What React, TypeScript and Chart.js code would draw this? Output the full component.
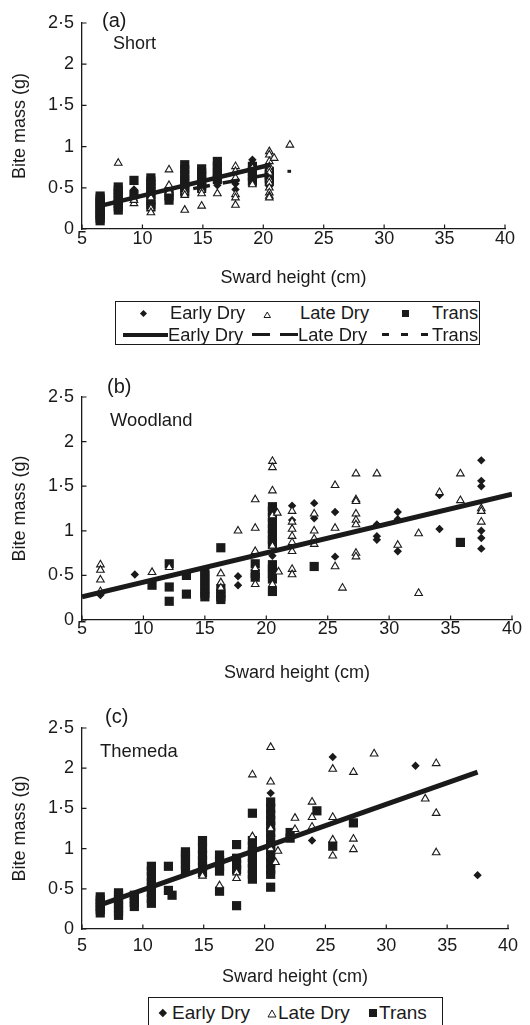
import React, { useEffect, useRef } from 'react';
import { Chart, registerables } from 'chart.js';

Chart.register(...registerables);

const FONT = '"Liberation Sans", Arial, Helvetica, sans-serif';
const INK = '#1a1a1a';

type Pt = [number, number];

// ---- axis ticks ----
const xTickValues = [5, 10, 15, 20, 25, 30, 35, 40];
const xTickLabels = ['5', '10', '15', '20', '25', '30', '35', '40'];
const yTickValues = [0, 0.5, 1, 1.5, 2, 2.5];
const yTickLabels = ['0', '0·5', '1', '1·5', '2', '2·5'];
const seriesNames = ['Early Dry', 'Late Dry', 'Trans'];

// ---- panel (a) Short ----
const shortEarly: Pt[] = [
  [9.3, 0.48], [9.3, 0.4], [9.3, 0.35], [10.7, 0.45], [14.9, 0.55], [16.2, 0.53],
  [17.7, 0.6], [17.7, 0.55], [17.7, 0.48], [19.1, 0.84], [19.1, 0.8], [20.5, 0.65], [20.5, 0.52],
];
const shortLate: Pt[] = [
  [8, 0.8], [9.3, 0.31], [9.3, 0.35], [10.7, 0.38], [10.7, 0.25], [10.7, 0.2],
  [12.2, 0.72], [12.2, 0.53], [12.2, 0.45], [13.5, 0.45], [13.5, 0.41], [13.5, 0.23],
  [14.9, 0.47], [14.9, 0.43], [14.9, 0.28], [16.2, 0.43],
  [17.7, 0.76], [17.7, 0.7], [17.7, 0.62], [17.7, 0.42], [17.7, 0.38], [17.7, 0.29],
  [19.1, 0.74], [19.1, 0.54],
  [20.5, 0.94], [20.5, 0.9], [20.5, 0.82], [20.5, 0.76], [20.5, 0.72], [20.5, 0.68],
  [20.5, 0.6], [20.5, 0.56], [20.5, 0.5], [20.5, 0.44], [20.5, 0.4], [20.5, 0.38],
  [20.9, 0.86], [22.2, 1.02],
];
const shortTrans: Pt[] = [
  [6.5, 0.1], [6.5, 0.13], [6.5, 0.16], [6.5, 0.19], [6.5, 0.22], [6.5, 0.25], [6.5, 0.28],
  [6.5, 0.31], [6.5, 0.34], [6.5, 0.37], [6.5, 0.4],
  [8, 0.23], [8, 0.27], [8, 0.31], [8, 0.35], [8, 0.39], [8, 0.43], [8, 0.47], [8, 0.51],
  [9.3, 0.59], [9.3, 0.42],
  [10.7, 0.62], [10.7, 0.58], [10.7, 0.54], [10.7, 0.5], [10.7, 0.46], [10.7, 0.42], [10.7, 0.35], [10.7, 0.3], [10.7, 0.27],
  [12.2, 0.35], [12.2, 0.4], [12.2, 0.45],
  [13.5, 0.78], [13.5, 0.72], [13.5, 0.66], [13.5, 0.6], [13.5, 0.55], [13.5, 0.5], [13.5, 0.45],
  [14.9, 0.73], [14.9, 0.68], [14.9, 0.63], [14.9, 0.58], [14.9, 0.53], [14.9, 0.5],
  [16.2, 0.82], [16.2, 0.76], [16.2, 0.7], [16.2, 0.65], [16.2, 0.6],
  [19.1, 0.76], [19.1, 0.7], [19.1, 0.64], [19.1, 0.58],
  [20.5, 0.7], [20.5, 0.66], [20.5, 0.62], [20.5, 0.58],
];
const shortEarlyFit: Pt[] = [[6.5, 0.28], [20.6, 0.78]];
const shortLateFit: Pt[] = [[14.2, 0.49], [21.1, 0.68]];
const shortTransFit: Pt[] = [[22.0, 0.7], [22.3, 0.7]];

// ---- panel (b) Woodland ----
const woodEarly: Pt[] = [
  [6.5, 0.28], [9.3, 0.51], [13.5, 0.5], [17.7, 0.49], [17.7, 0.39],
  [20.5, 0.72], [20.5, 0.62], [20.5, 0.58], [22.1, 1.28], [22.1, 1.12], [22.1, 0.83],
  [23.9, 1.31], [23.9, 1.14], [25.6, 1.21], [25.6, 0.71], [29, 1.07], [29, 0.94], [29, 0.9],
  [30.7, 1.21], [30.7, 1.13], [30.7, 0.77], [34.1, 1.4], [34.1, 1.02],
  [37.5, 1.79], [37.5, 1.56], [37.5, 1.5], [37.5, 1.0], [37.5, 0.92], [37.5, 0.8],
];
const woodLate: Pt[] = [
  [6.5, 0.62], [6.5, 0.56], [6.5, 0.45], [6.5, 0.32], [10.7, 0.535], [12.1, 0.59],
  [16.3, 0.52], [16.3, 0.42], [16.3, 0.36], [17.7, 1.0],
  [19.1, 1.35], [19.1, 1.03], [19.1, 0.77], [19.1, 0.58], [19.1, 0.4],
  [20.5, 1.78], [20.5, 1.71], [20.5, 1.45], [20.5, 1.17], [20.5, 0.83], [20.5, 0.4],
  [20.9, 1.2], [21.0, 0.54],
  [22.1, 1.22], [22.1, 1.1], [22.1, 1.02], [22.1, 0.94], [22.1, 0.87], [22.1, 0.77], [22.1, 0.57], [22.1, 0.51],
  [23.9, 1.19], [23.9, 1.0], [23.9, 0.91], [23.9, 0.85],
  [25.6, 1.51], [25.6, 1.03], [25.6, 0.6], [26.2, 0.36],
  [27.3, 1.64], [27.3, 1.35], [27.3, 1.33], [27.3, 1.19], [27.3, 1.12], [27.3, 1.07], [27.3, 0.75], [27.3, 0.71],
  [29, 1.64], [30.7, 0.84], [32.4, 0.97], [32.4, 0.3], [34.1, 1.43],
  [35.8, 1.64], [35.8, 1.34], [37.5, 1.25], [37.5, 1.22], [37.5, 1.1],
];
const woodTrans: Pt[] = [
  [10.7, 0.39], [12.1, 0.63], [12.1, 0.37], [12.1, 0.21], [13.5, 0.5], [13.5, 0.29],
  [15, 0.55], [15, 0.5], [15, 0.45], [15, 0.4], [15, 0.35], [15, 0.3], [15, 0.26],
  [16.3, 0.81], [16.3, 0.35], [16.3, 0.3], [16.3, 0.26], [16.3, 0.23],
  [19.1, 0.63], [19.1, 0.52], [19.1, 0.48],
  [20.5, 1.27], [20.5, 1.22], [20.5, 1.15], [20.5, 1.08], [20.5, 1.02], [20.5, 0.96], [20.5, 0.9],
  [20.5, 0.85], [20.5, 0.62], [20.5, 0.57], [20.5, 0.52], [20.5, 0.46], [20.5, 0.32],
  [23.9, 0.6], [35.8, 0.87],
];
const woodFit: Pt[] = [[5, 0.26], [40, 1.41]];

// ---- panel (c) Themeda ----
const themEarly: Pt[] = [[20.5, 1.69], [23.9, 1.1], [25.6, 2.14], [32.4, 2.03], [37.5, 0.67]];
const themLate: Pt[] = [
  [14.9, 0.66], [16.3, 0.54], [17.7, 0.7], [17.7, 0.63], [19, 1.92], [19, 1.15],
  [20.5, 2.26], [20.5, 1.83], [20.5, 1.25], [20.5, 1.0], [20.9, 0.83], [21.1, 0.97],
  [22.5, 1.38], [22.5, 1.24], [23.9, 1.58], [23.9, 1.39], [23.9, 1.27],
  [25.6, 1.99], [25.6, 1.39], [25.6, 1.11], [25.6, 0.91],
  [27.3, 1.95], [27.3, 1.12], [27.3, 0.99], [29, 2.18], [33.2, 1.62],
  [34.1, 2.06], [34.1, 1.44], [34.1, 0.95],
];
const themTrans: Pt[] = [
  [6.5, 0.2], [6.5, 0.24], [6.5, 0.28], [6.5, 0.32], [6.5, 0.36], [6.5, 0.4],
  [8, 0.17], [8, 0.22], [8, 0.27], [8, 0.32], [8, 0.37], [8, 0.42], [8, 0.45],
  [9.3, 0.28], [9.3, 0.33], [9.3, 0.38], [9.3, 0.42],
  [10.7, 0.32], [10.7, 0.38], [10.7, 0.45], [10.7, 0.52], [10.7, 0.58], [10.7, 0.65], [10.7, 0.72], [10.7, 0.78],
  [12.1, 0.78], [12.1, 0.48], [12.4, 0.42],
  [13.5, 0.74], [13.5, 0.8], [13.5, 0.86], [13.5, 0.92], [13.5, 0.96],
  [14.9, 0.7], [14.9, 0.78], [14.9, 0.85], [14.9, 0.92], [14.9, 1.0], [14.9, 1.1],
  [16.3, 0.92], [16.3, 0.85], [16.3, 0.78], [16.3, 0.72], [16.3, 0.47],
  [17.7, 1.05], [17.7, 0.88], [17.7, 0.8], [17.7, 0.74], [17.7, 0.29],
  [19, 1.44], [19, 1.1], [19, 1.03], [19, 0.96], [19, 0.89], [19, 0.82], [19, 0.75], [19, 0.68], [19, 0.62],
  [20.5, 1.58], [20.5, 1.5], [20.5, 1.42], [20.5, 1.35], [20.5, 1.28], [20.5, 1.2], [20.5, 1.12],
  [20.5, 1.05], [20.5, 0.98], [20.5, 0.9], [20.5, 0.82], [20.5, 0.74], [20.5, 0.68], [20.5, 0.52],
  [22.1, 1.2], [22.1, 1.13], [24.3, 1.47], [25.6, 1.03], [27.3, 1.32],
];
const themFit: Pt[] = [[6.5, 0.3], [37.5, 1.95]];

const toXY = (a: Pt[]) => a.map(([x, y]) => ({ x, y }));

const inwardTicks = {
  id: 'inwardTicks',
  beforeDatasetsDraw(chart: any) {
    const { ctx, chartArea, scales } = chart;
    ctx.save();
    ctx.strokeStyle = INK;
    ctx.lineWidth = 1.2;
    ctx.beginPath();
    xTickValues.forEach((v) => {
      const px = scales.x.getPixelForValue(v);
      ctx.moveTo(px, chartArea.bottom);
      ctx.lineTo(px, chartArea.bottom - 4.5);
    });
    yTickValues.forEach((v) => {
      const py = scales.y.getPixelForValue(v);
      ctx.moveTo(chartArea.left, py);
      ctx.lineTo(chartArea.left + 4.5, py);
    });
    ctx.stroke();
    ctx.restore();
  },
};

interface FitLine { data: Pt[]; width: number; dash: number[] }
interface PanelDef {
  top: number; height: number; areaTop: number; areaBottom: number; areaRight: number;
  xTickPad: number; xTitleCenter: number;
  early: Pt[]; late: Pt[]; trans: Pt[]; fits: FitLine[];
}

const panels: PanelDef[] = [
  {
    top: 0, height: 295, areaTop: 23, areaBottom: 229, areaRight: 505, xTickPad: 1, xTitleCenter: 278,
    early: shortEarly, late: shortLate, trans: shortTrans,
    fits: [
      { data: shortEarlyFit, width: 4.5, dash: [] },
      { data: shortLateFit, width: 3.5, dash: [17, 13] },
      { data: shortTransFit, width: 3, dash: [] },
    ],
  },
  {
    top: 360, height: 330, areaTop: 397, areaBottom: 620, areaRight: 512, xTickPad: 0, xTitleCenter: 673,
    early: woodEarly, late: woodLate, trans: woodTrans,
    fits: [{ data: woodFit, width: 5, dash: [] }],
  },
  {
    top: 700, height: 295, areaTop: 728, areaBottom: 929, areaRight: 508, xTickPad: 8, xTitleCenter: 977,
    early: themEarly, late: themLate, trans: themTrans,
    fits: [{ data: themFit, width: 5, dash: [] }],
  },
];

function Panel({ def }: { def: PanelDef }) {
  const ref = useRef<HTMLCanvasElement | null>(null);
  useEffect(() => {
    if (!ref.current) return;
    const xAxisH = def.height - (def.areaBottom - def.top);
    const titleLH = 18 * 1.2;
    const titlePadBottom = def.height - (def.xTitleCenter - def.top) - titleLH / 2;
    const datasets: any[] = [
      {
        label: seriesNames[2], data: toXY(def.trans), pointStyle: 'rect', pointRadius: 6.5,
        backgroundColor: INK, borderColor: INK, borderWidth: 0, showLine: false, order: 3,
      },
      {
        label: seriesNames[0], data: toXY(def.early), pointStyle: 'rectRot', pointRadius: 4.2,
        backgroundColor: INK, borderColor: INK, borderWidth: 0, showLine: false, order: 2,
      },
      {
        label: seriesNames[1], data: toXY(def.late), pointStyle: 'triangle', pointRadius: 4.4,
        backgroundColor: '#ffffff', borderColor: INK, borderWidth: 1.1, showLine: false, order: 1,
      },
      ...def.fits.map((f, i) => ({
        label: seriesNames[i] + ' fit', data: toXY(f.data), showLine: true, pointRadius: 0,
        borderColor: INK, borderWidth: f.width, borderDash: f.dash, borderCapStyle: 'butt',
        fill: false, order: 0,
      })),
    ];
    const tickFont = { family: FONT, size: 18, lineHeight: 1 };
    const chart = new Chart(ref.current, {
      type: 'scatter',
      data: { datasets },
      plugins: [inwardTicks],
      options: {
        animation: false,
        responsive: false,
        events: [],
        layout: { padding: { top: def.areaTop - def.top, right: 530 - def.areaRight, left: 0, bottom: 0 } },
        plugins: { legend: { display: false }, tooltip: { enabled: false } },
        scales: {
          x: {
            type: 'linear', min: 5, max: 40,
            afterFit: (s: any) => { s.height = xAxisH; },
            afterBuildTicks: (s: any) => { s.ticks = xTickValues.map((v) => ({ value: v })); },
            ticks: {
              padding: def.xTickPad, color: INK, font: tickFont, maxRotation: 0, autoSkip: false,
              callback: (_v: any, i: number) => xTickLabels[i],
            },
            grid: { display: false, drawTicks: false },
            border: { display: true, color: INK, width: 1.3 },
            title: {
              display: true, text: 'Sward height (cm)', color: INK,
              font: { family: FONT, size: 18, lineHeight: 1.2 },
              padding: { top: 0, bottom: titlePadBottom },
            },
          },
          y: {
            type: 'linear', min: 0, max: 2.5,
            afterFit: (s: any) => { s.width = 82; },
            afterBuildTicks: (s: any) => { s.ticks = yTickValues.map((v) => ({ value: v })); },
            ticks: {
              padding: 8, color: INK, font: tickFont, autoSkip: false,
              callback: (_v: any, i: number) => yTickLabels[i],
            },
            grid: { display: false, drawTicks: false },
            border: { display: true, color: INK, width: 1.3 },
            title: {
              display: true, text: 'Bite mass (g)', color: INK,
              font: { family: FONT, size: 18, lineHeight: 1.2 },
              padding: { top: 9, bottom: 0 },
            },
          },
        },
      } as any,
    });
    return () => chart.destroy();
  }, [def]);
  return (
    <canvas
      ref={ref}
      width={530}
      height={def.height}
      style={{ position: 'absolute', left: 0, top: def.top, width: 530, height: def.height }}
    />
  );
}

const txt = (size: number): React.CSSProperties => ({
  position: 'absolute', fontFamily: FONT, fontSize: size, lineHeight: 1, color: INK, whiteSpace: 'nowrap',
});

function Label({ left, top, size, children }: { left: number; top: number; size: number; children: any }) {
  return <div style={{ ...txt(size), left, top }}>{children}</div>;
}

function Diamond({ cx, cy, w }: { cx: number; cy: number; w: number }) {
  const s = w / Math.SQRT2;
  return (
    <div style={{ position: 'absolute', left: cx - s / 2, top: cy - s / 2, width: s, height: s, background: INK, transform: 'rotate(45deg)' }} />
  );
}
function Square({ cx, cy, w }: { cx: number; cy: number; w: number }) {
  return <div style={{ position: 'absolute', left: cx - w / 2, top: cy - w / 2, width: w, height: w, background: INK }} />;
}
function Triangle({ cx, cy, w, h }: { cx: number; cy: number; w: number; h: number }) {
  return (
    <svg style={{ position: 'absolute', left: cx - w / 2 - 1, top: cy - h / 2 - 1 }} width={w + 2} height={h + 2}>
      <polygon points={`${w / 2 + 1},1 ${w + 1},${h + 1} 1,${h + 1}`} fill="#fff" stroke={INK} strokeWidth={1} />
    </svg>
  );
}
function HLine({ x1, x2, y, t }: { x1: number; x2: number; y: number; t: number }) {
  return <div style={{ position: 'absolute', left: x1, top: y - t / 2, width: x2 - x1, height: t, background: INK }} />;
}

export default function App() {
  return (
    <div style={{ position: 'absolute', left: 0, top: 0, width: 530, height: 1025, overflow: 'hidden', background: '#fff' }}>
      {panels.map((p, i) => <Panel key={i} def={p} />)}

      <Label left={102} top={10} size={20}>(a)</Label>
      <Label left={113} top={34} size={18}>Short</Label>
      <Label left={107} top={376} size={20}>(b)</Label>
      <Label left={110} top={411} size={18.4}>Woodland</Label>
      <Label left={105} top={706} size={20}>(c)</Label>
      <Label left={100} top={742} size={18.4}>Themeda</Label>

      {/* legend (a) */}
      <div style={{ position: 'absolute', left: 115, top: 301, width: 365, height: 44, border: `1px solid ${INK}`, boxSizing: 'border-box' }} />
      <Diamond cx={143} cy={313.5} w={7} />
      <Label left={170} top={303.5} size={18.3}>{seriesNames[0]}</Label>
      <Triangle cx={267} cy={315} w={6.5} h={5.5} />
      <Label left={300} top={303.5} size={18.3}>{seriesNames[1]}</Label>
      <Square cx={405} cy={313.5} w={7} />
      <Label left={432} top={303.5} size={18.3}>{seriesNames[2]}</Label>
      <HLine x1={123} x2={168} y={334.5} t={4} />
      <Label left={168} top={325.5} size={18.3}>{seriesNames[0]}</Label>
      <HLine x1={252} x2={270} y={334.5} t={3} />
      <HLine x1={280} x2={298} y={334.5} t={3} />
      <Label left={298} top={325.5} size={18.3}>{seriesNames[1]}</Label>
      <HLine x1={382} x2={389} y={334.5} t={3} />
      <HLine x1={401} x2={408} y={334.5} t={3} />
      <HLine x1={421} x2={428} y={334.5} t={3} />
      <Label left={432} top={325.5} size={18.3}>{seriesNames[2]}</Label>

      {/* legend (c) */}
      <div style={{ position: 'absolute', left: 148, top: 997, width: 295, height: 45, border: `1px solid ${INK}`, boxSizing: 'border-box' }} />
      <Diamond cx={163} cy={1012.5} w={8} />
      <Label left={172} top={1002.5} size={19}>{seriesNames[0]}</Label>
      <Triangle cx={272} cy={1013.5} w={8} h={7} />
      <Label left={278} top={1002.5} size={19}>{seriesNames[1]}</Label>
      <Square cx={373} cy={1012.5} w={8} />
      <Label left={379} top={1002.5} size={19}>{seriesNames[2]}</Label>
    </div>
  );
}
